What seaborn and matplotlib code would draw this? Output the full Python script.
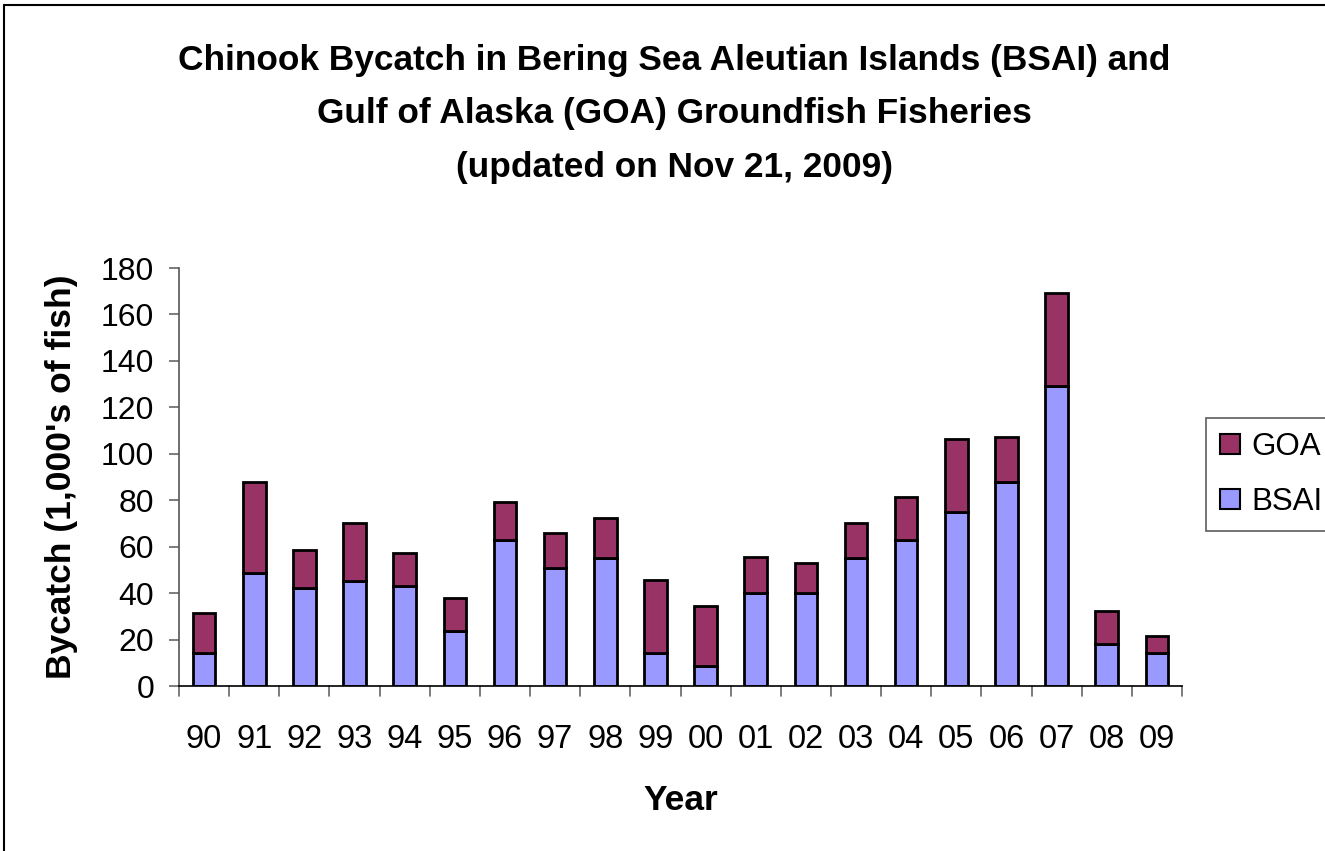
import matplotlib
matplotlib.use("Agg")
import matplotlib.pyplot as plt
import seaborn as sns
import pandas as pd
from matplotlib.patches import Patch
from matplotlib.lines import Line2D

years = ["90", "91", "92", "93", "94", "95", "96", "97", "98", "99",
         "00", "01", "02", "03", "04", "05", "06", "07", "08", "09"]
bsai = [14.0, 48.8, 42.2, 45.4, 43.2, 23.7, 62.8, 50.9, 55.2, 14.0,
        8.4, 40.1, 40.1, 55.2, 62.8, 74.8, 87.8, 129.0, 18.3, 14.0]
goa = [17.5, 39.2, 16.3, 25.0, 14.2, 14.1, 16.5, 15.2, 17.3, 31.5,
       26.2, 15.3, 13.0, 15.2, 18.6, 31.4, 19.5, 40.1, 14.2, 7.6]
yticks = [0, 20, 40, 60, 80, 100, 120, 140, 160, 180]

df = pd.DataFrame({"Year": years, "BSAI": bsai, "GOA": goa})

sns.set_theme(style="white")
plt.rcParams["font.family"] = ["Liberation Sans", "DejaVu Sans"]
plt.rcParams["text.color"] = "black"
plt.rcParams["axes.labelcolor"] = "black"
plt.rcParams["xtick.color"] = "black"
plt.rcParams["ytick.color"] = "black"

fig = plt.figure(figsize=(13.25, 8.51), dpi=100)
ax = fig.add_axes([179 / 1325, 1 - 686 / 851, (1182 - 179) / 1325, (686 - 268) / 851])

bsai_c = "#9999FF"
goa_c = "#993366"

sns.barplot(data=df, x="Year", y="BSAI", order=years, color=bsai_c, saturation=1,
            width=0.45, edgecolor="black", linewidth=2, ax=ax)
sns.barplot(data=df, x="Year", y="GOA", order=years, color=goa_c, saturation=1,
            width=0.45, edgecolor="black", linewidth=2, ax=ax, bottom=df["BSAI"].values)

ax.set_ylim(0, 180)
ax.set_xlim(-0.5, len(years) - 0.5)
ax.set_yticks(yticks)
ax.set_yticklabels([str(t) for t in yticks], fontsize=23)
ax.set_xticks(range(len(years)))
ax.set_xticklabels(years, fontsize=23.5)
ax.tick_params(axis="x", length=0, pad=27)
ax.tick_params(axis="y", length=7, width=1.2, color="#666666", left=True, pad=11)
# category boundary ticks on x axis
for i in range(len(years) + 1):
    ax.plot([i - 0.5, i - 0.5], [0, -4.3], color="#666666", lw=1.2, clip_on=False)

for s in ["top", "right"]:
    ax.spines[s].set_visible(False)
ax.spines["left"].set_color("#555555")
ax.spines["bottom"].set_color("black")
ax.spines["left"].set_linewidth(1.2)
ax.spines["bottom"].set_linewidth(1.2)

ax.set_xlabel("Year", fontsize=25.5, fontweight="bold", labelpad=21)
ax.set_ylabel("Bycatch (1,000's of fish)", fontsize=25.5, fontweight="bold", labelpad=16)

fig.text(674 / 1325, 1 - 114 / 851,
         "Chinook Bycatch in Bering Sea Aleutian Islands (BSAI) and\n"
         "Gulf of Alaska (GOA) Groundfish Fisheries\n"
         "(updated on Nov 21, 2009)",
         ha="center", va="center", fontsize=25.4, fontweight="bold", linespacing=1.78)

handles = [Patch(facecolor=goa_c, edgecolor="black", linewidth=1.5, label="GOA"),
           Patch(facecolor=bsai_c, edgecolor="black", linewidth=1.5, label="BSAI")]
leg = fig.legend(handles=handles, loc="upper left",
                 bbox_to_anchor=(1206 / 1325, 1 - 418 / 851),
                 fontsize=22.5, frameon=True, fancybox=False, handlelength=0.64,
                 handleheight=0.64, handletextpad=0.36, labelspacing=0.8,
                 borderpad=0.45, borderaxespad=0)
leg.get_frame().set_edgecolor("#333333")
leg.get_frame().set_linewidth(1.2)

# outer chart frame
fig.add_artist(Line2D([4 / 1325, 4 / 1325], [0, 1 - 5 / 851], transform=fig.transFigure,
                      color="black", lw=1.5))
fig.add_artist(Line2D([4 / 1325, 1], [1 - 5 / 851, 1 - 5 / 851], transform=fig.transFigure,
                      color="black", lw=1.5))

fig.savefig("out.png", dpi=100)
